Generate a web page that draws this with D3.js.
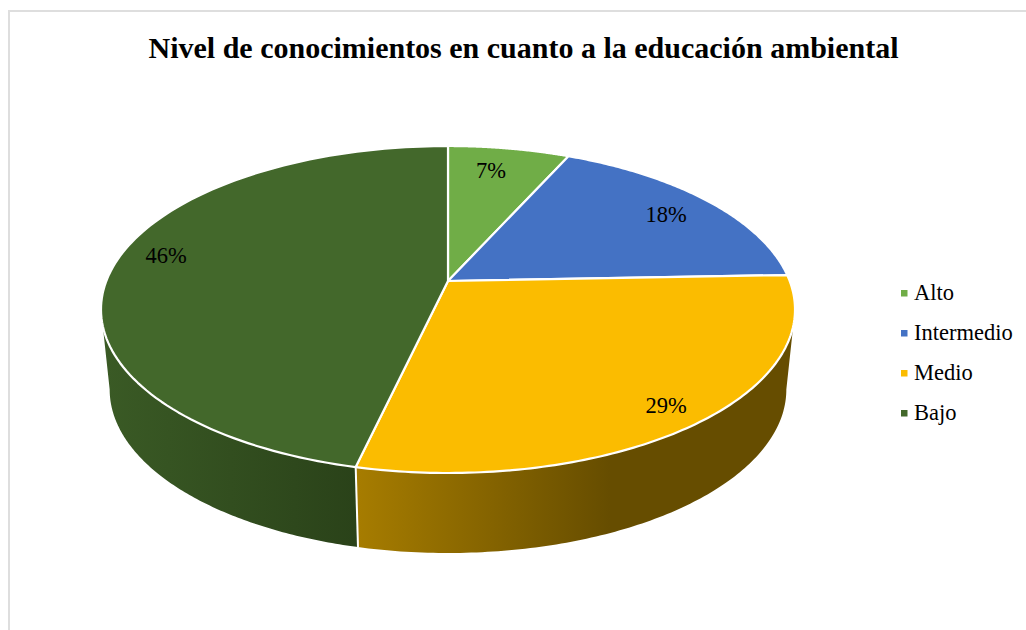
<!DOCTYPE html>
<html><head><meta charset="utf-8">
<script src="https://cdn.jsdelivr.net/npm/d3@7"></script>
<style>html,body{margin:0;padding:0;background:#fff}svg{display:block}text{font-family:"Liberation Serif",serif;fill:#000}</style>
</head><body><svg id="c" width="1026" height="630"></svg>
<script>
const categories=["Alto","Intermedio","Medio","Bajo"];
const shares=[6.7,17.7,29.2,46.4];
const labels=["7%","18%","29%","46%"];
const colors=["#70AD47","#4472C4","#FBBC00","#43682B"];
const sideStops=[null,null,["#A67C00","#664D00"],["#3A5A25","#2A4219"]];
const chartTitle="Nivel de conocimientos en cuanto a la educación ambiental";

const svg=d3.select("#c");
svg.append("rect").attr("x",9).attr("y",11).attr("width",1040).attr("height",640)
  .attr("fill","#fff").attr("stroke","#DEDEDE").attr("stroke-width",2);
svg.append("text").attr("x",523.5).attr("y",58).attr("text-anchor","middle")
  .attr("font-size",30).attr("font-weight","bold").text(chartTitle);

// perspective projection of the pie disc
const apex={x:448,y:281},k=-0.1743,ax=341.7,ay=109.55,depth=80,shrink=0.975;
const top3=t=>{const u=Math.sin(t),v=-Math.cos(t),d=1+k*v;return [apex.x+ax*u/d,(ay*v+apex.y)/d];};
const bot3=t=>{const p=top3(t);return [apex.x+(p[0]-apex.x)*shrink,p[1]+depth];};
const arcs=d3.pie().sort(null)(shares);
const line=d3.line();
const sample=(a,b,f)=>d3.range(0,1.0001,1/120).map(s=>f(a+(b-a)*s));

// the rim's visible extremes: tangent angles of the projected ellipse
const tRight=Math.PI/2+Math.asin(-k),tLeft=2*Math.PI-tRight;
const defs=svg.append("defs");
arcs.forEach((a,i)=>{
  if(!sideStops[i])return;
  const s=Math.max(a.startAngle,tRight),e=Math.min(a.endAngle,tLeft);
  if(e<=s)return;
  const g=defs.append("linearGradient").attr("id","side"+i).attr("gradientUnits","userSpaceOnUse")
    .attr("y1",0).attr("y2",0);
  if(i===2){g.attr("x1",359).attr("x2",610);}else{g.attr("x1",105).attr("x2",358);}
  g.append("stop").attr("offset",0).attr("stop-color",sideStops[i][0]);
  g.append("stop").attr("offset",1).attr("stop-color",sideStops[i][1]);
  const pts=sample(s,e,top3).concat(sample(s,e,bot3).reverse());
  svg.append("path").attr("d",line(pts)+"Z").attr("fill",`url(#side${i})`);
});
// seam between the two front walls
arcs.forEach(a=>{
  const e=a.endAngle;
  if(e>tRight&&e<tLeft)svg.append("path").attr("d",line([top3(e),bot3(e)])).attr("stroke","#fff").attr("stroke-width",2).attr("fill","none");
});
// top faces
arcs.forEach((a,i)=>{
  const pts=[[apex.x,apex.y]].concat(sample(a.startAngle,a.endAngle,top3));
  svg.append("path").attr("d",line(pts)+"Z").attr("fill",colors[i])
    .attr("stroke","#fff").attr("stroke-width",2.2).attr("stroke-linejoin","round");
});
// value labels
const labelPos=[[491,178],[666,222],[666,413],[166,263]];
labels.forEach((t,i)=>svg.append("text").attr("x",labelPos[i][0]).attr("y",labelPos[i][1])
  .attr("text-anchor","middle").attr("font-size",22.5).text(t));
// legend
const ly=d3.scalePoint().domain(categories).range([293,413]);
categories.forEach((c,i)=>{
  svg.append("rect").attr("x",901).attr("y",ly(c)-3).attr("width",6.5).attr("height",6.5).attr("fill",colors[i]);
  svg.append("text").attr("x",914).attr("y",ly(c)+7).attr("font-size",22.5).text(c);
});
</script></body></html>
